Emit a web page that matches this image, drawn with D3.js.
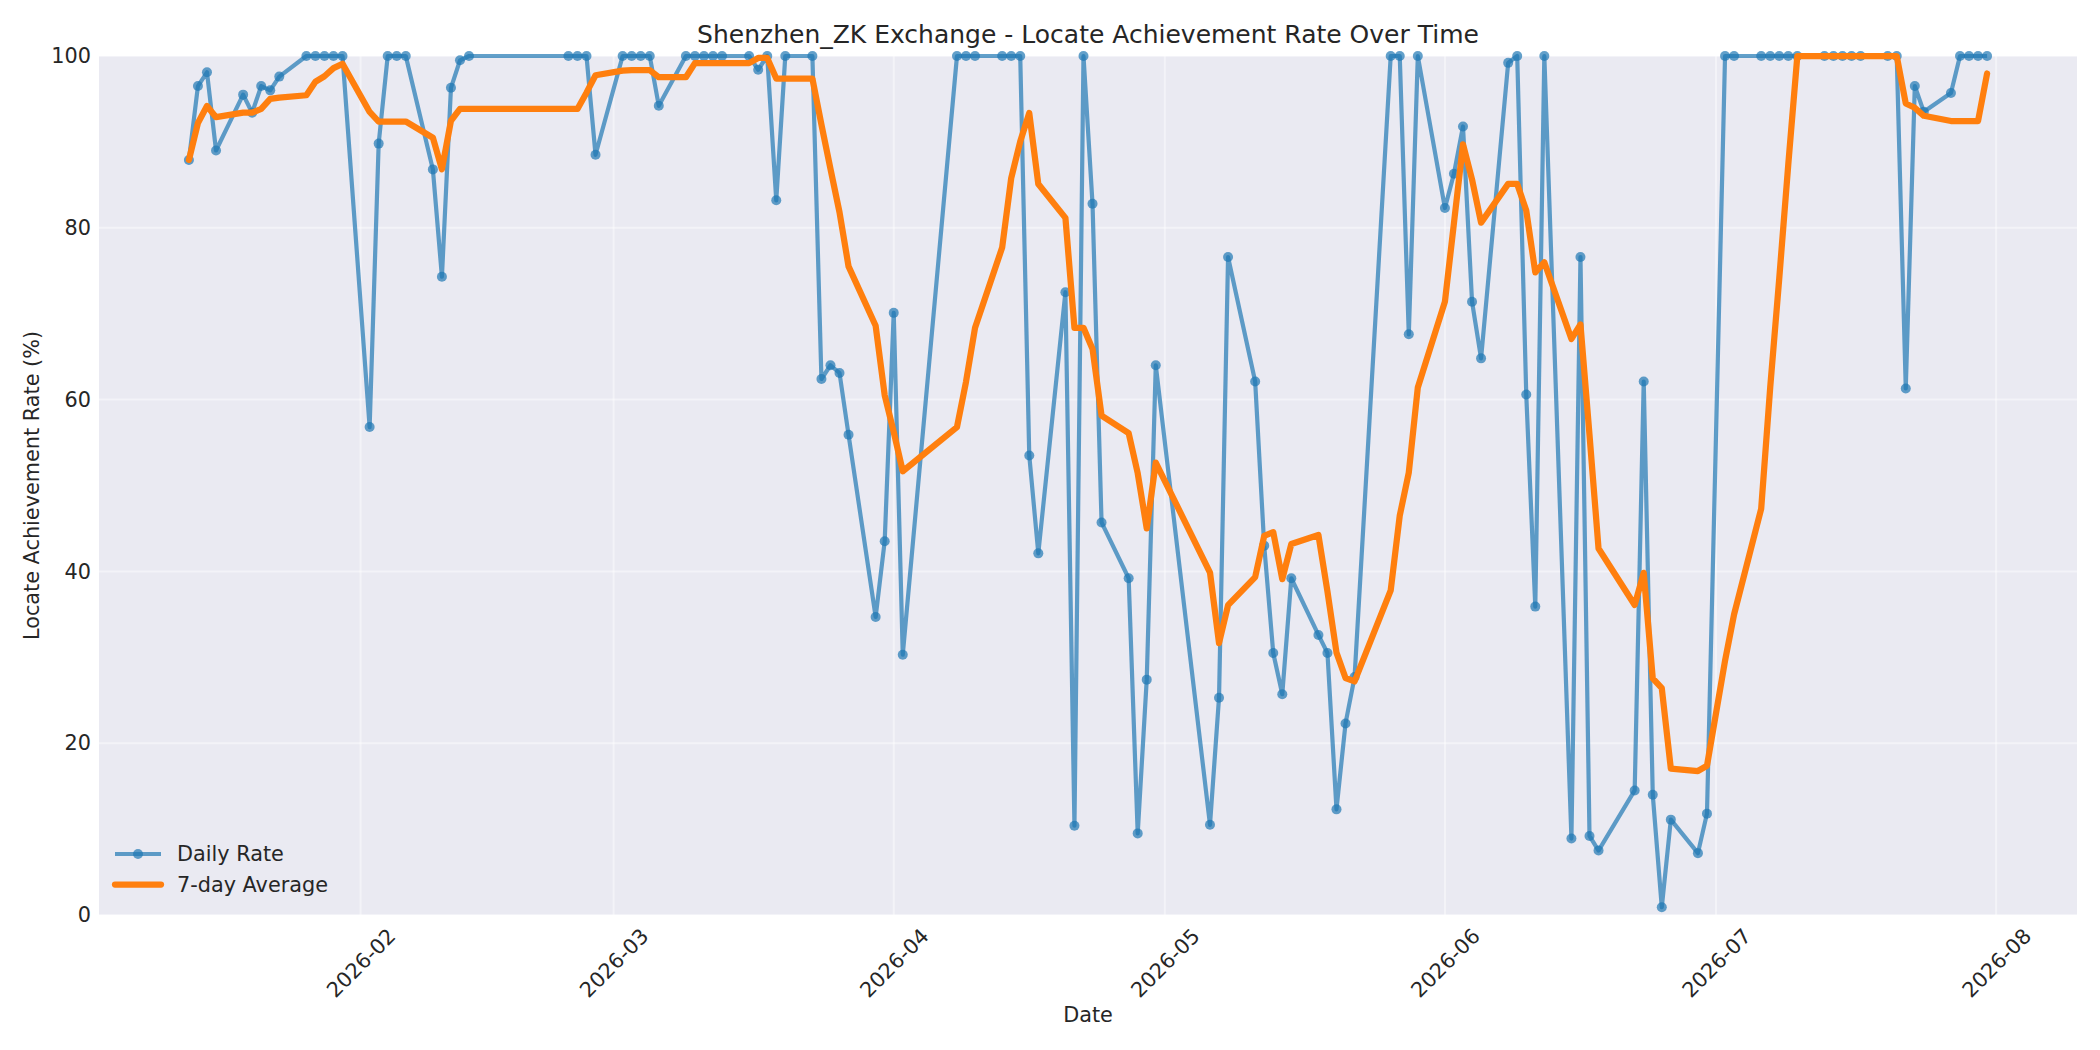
<!DOCTYPE html>
<html>
<head>
<meta charset="utf-8">
<script src="https://cdn.jsdelivr.net/npm/d3@7"></script>
<style>
  body { margin: 0; background: #fff; }
  text { font-family: "DejaVu Sans", sans-serif; fill: #262626; }
</style>
</head>
<body>
<svg id="chart" width="2100" height="1050"></svg>
<script>
// trading days
const dates = [
  "2026-01-13","2026-01-14","2026-01-15","2026-01-16",
  "2026-01-19","2026-01-20","2026-01-21","2026-01-22","2026-01-23",
  "2026-01-26","2026-01-27","2026-01-28","2026-01-29","2026-01-30",
  "2026-02-02","2026-02-03","2026-02-04","2026-02-05","2026-02-06",
  "2026-02-09","2026-02-10","2026-02-11","2026-02-12","2026-02-13",
  "2026-02-24","2026-02-25","2026-02-26","2026-02-27",
  "2026-03-02","2026-03-03","2026-03-04","2026-03-05","2026-03-06",
  "2026-03-09","2026-03-10","2026-03-11","2026-03-12","2026-03-13",
  "2026-03-16","2026-03-17","2026-03-18","2026-03-19","2026-03-20",
  "2026-03-23","2026-03-24","2026-03-25","2026-03-26","2026-03-27",
  "2026-03-30","2026-03-31","2026-04-01","2026-04-02",
  "2026-04-08","2026-04-09","2026-04-10",
  "2026-04-13","2026-04-14","2026-04-15","2026-04-16","2026-04-17",
  "2026-04-20","2026-04-21","2026-04-22","2026-04-23","2026-04-24",
  "2026-04-27","2026-04-28","2026-04-29","2026-04-30",
  "2026-05-06","2026-05-07","2026-05-08",
  "2026-05-11","2026-05-12","2026-05-13","2026-05-14","2026-05-15",
  "2026-05-18","2026-05-19","2026-05-20","2026-05-21","2026-05-22",
  "2026-05-26","2026-05-27","2026-05-28","2026-05-29",
  "2026-06-01","2026-06-02","2026-06-03","2026-06-04","2026-06-05",
  "2026-06-08","2026-06-09","2026-06-10","2026-06-11","2026-06-12",
  "2026-06-15","2026-06-16","2026-06-17","2026-06-18",
  "2026-06-22","2026-06-23","2026-06-24","2026-06-25","2026-06-26",
  "2026-06-29","2026-06-30",
  "2026-07-02","2026-07-03",
  "2026-07-06","2026-07-07","2026-07-08","2026-07-09","2026-07-10",
  "2026-07-13","2026-07-14","2026-07-15","2026-07-16","2026-07-17",
  "2026-07-20","2026-07-21","2026-07-22","2026-07-23","2026-07-24",
  "2026-07-27","2026-07-28","2026-07-29","2026-07-30","2026-07-31"
];

const dailyRate = [
  87.9, 96.5, 98.1, 89.0,
  95.5, 93.4, 96.5, 96.0, 97.6,
  100, 100, 100, 100, 100,
  56.8, 89.8, 100, 100, 100,
  86.8, 74.3, 96.3, 99.5, 100,
  100, 100, 100, 88.5,
  100, 100, 100, 100, 94.2,
  100, 100, 100, 100, 100,
  100, 98.4, 100, 83.2, 100,
  100, 62.4, 64.0, 63.1, 55.9,
  34.7, 43.5, 70.1, 30.3,
  100, 100, 100,
  100, 100, 100, 53.5, 42.1,
  72.5, 10.4, 100, 82.8, 45.7,
  39.2, 9.5, 27.4, 64.0,
  10.5, 25.3, 76.6,
  62.1, 43.0, 30.5, 25.7, 39.2,
  32.6, 30.5, 12.3, 22.3, 27.7,
  100, 100, 67.6, 100,
  82.3, 86.3, 91.8, 71.4, 64.8,
  99.2, 100, 60.6, 35.9, 100,
  8.9, 76.6, 9.2, 7.5,
  14.5, 62.1, 14.0, 0.9, 11.1,
  7.2, 11.8,
  100, 100,
  100, 100, 100, 100, 100,
  100, 100, 100, 100, 100,
  100, 100, 61.3, 96.5, 93.5,
  95.7, 100, 100, 100, 100
];

const weekAvg = [
  87.90, 92.20, 94.17, 92.88,
  93.40, 93.40, 93.84, 95.00, 95.16,
  95.43, 97.00, 97.64, 98.59, 99.09,
  93.49, 92.37, 92.37, 92.37, 92.37,
  90.49, 86.81, 92.46, 93.84, 93.84,
  93.84, 93.84, 95.73, 97.76,
  98.29, 98.36, 98.36, 98.36, 97.53,
  97.53, 99.17, 99.17, 99.17, 99.17,
  99.17, 99.77, 99.77, 97.37, 97.37,
  97.37, 92.00, 86.86, 81.81, 75.51,
  68.59, 60.51, 56.24, 51.66,
  56.80, 62.07, 68.37,
  77.70, 85.77, 90.04, 93.36, 85.09,
  81.16, 68.36, 68.36, 65.90, 58.14,
  56.10, 51.44, 45.00, 52.66,
  39.87, 31.66, 36.07,
  39.34, 44.13, 44.57, 39.10, 43.20,
  44.24, 37.66, 30.54, 27.59, 27.19,
  37.80, 46.49, 51.49, 61.41,
  71.41, 80.56, 89.71, 85.63, 80.60,
  85.11, 85.11, 82.01, 74.81, 75.99,
  67.06, 68.74, 55.89, 42.67,
  36.09, 39.83, 27.54, 26.40, 17.04,
  16.76, 17.37,
  29.59, 35.00,
  47.29, 61.44, 74.14, 87.40, 100,
  100, 100, 100, 100, 100,
  100, 100, 94.47, 93.97, 93.04,
  92.43, 92.43, 92.43, 92.43, 97.96
];

const yTicks = [0, 20, 40, 60, 80, 100];
const xTicks = ["2026-02-01","2026-03-01","2026-04-01","2026-05-01","2026-06-01","2026-07-01","2026-08-01"];
const seriesNames = ["Daily Rate", "7-day Average"];

const parse = d3.utcParse("%Y-%m-%d");
const rows = dates.map((d, i) => ({ date: parse(d), rate: dailyRate[i], avg: weekAvg[i] }));

const W = 2100, H = 1050;
const margin = { left: 99, right: 23, top: 56, bottom: 135 };
const plotW = W - margin.left - margin.right;
const plotH = H - margin.top - margin.bottom;

const svg = d3.select("#chart");
svg.append("rect").attr("width", W).attr("height", H).attr("fill", "#fff");

const g = svg.append("g").attr("transform", `translate(${margin.left},${margin.top})`);

// matplotlib style 5% padding on the date range
const ext = d3.extent(rows, d => d.date);
const pad = (ext[1] - ext[0]) * 0.05;
const x = d3.scaleUtc()
    .domain([new Date(+ext[0] - pad), new Date(+ext[1] + pad)])
    .range([0, plotW]);
const y = d3.scaleLinear().domain([0, 100]).range([plotH, 0]);

g.append("rect")
    .attr("width", plotW).attr("height", plotH)
    .attr("fill", "#eaeaf2");

// grid
const tickDates = xTicks.map(parse);
g.append("g").attr("class", "grid")
    .selectAll("line").data(tickDates).join("line")
    .attr("x1", d => x(d)).attr("x2", d => x(d))
    .attr("y1", 0).attr("y2", plotH);
g.append("g").attr("class", "grid")
    .selectAll("line").data(yTicks).join("line")
    .attr("x1", 0).attr("x2", plotW)
    .attr("y1", d => y(d)).attr("y2", d => y(d));
g.selectAll(".grid line")
    .attr("stroke", "#fff").attr("stroke-opacity", 0.45).attr("stroke-width", 2);

// axes
const yAxis = g.append("g")
    .call(d3.axisLeft(y).tickValues(yTicks).tickSize(0).tickPadding(8));
const xAxis = g.append("g")
    .attr("transform", `translate(0,${plotH})`)
    .call(d3.axisBottom(x).tickValues(tickDates).tickSize(0).tickFormat(d3.utcFormat("%Y-%m")));
[yAxis, xAxis].forEach(a => {
    a.select(".domain").remove();
    a.selectAll("text").attr("font-size", 20.8).attr("fill", "#262626")
        .attr("font-family", "DejaVu Sans, sans-serif");
});
xAxis.selectAll("text")
    .attr("y", 0).attr("dy", "0.35em")
    .attr("text-anchor", "middle")
    .attr("transform", "translate(0,48) rotate(-45)");

// series
const plot = g.append("g");
plot.append("path")
    .datum(rows)
    .attr("fill", "none")
    .attr("stroke", "#1f77b4")
    .attr("stroke-opacity", 0.7)
    .attr("stroke-width", 4.2)
    .attr("stroke-linejoin", "round")
    .attr("d", d3.line().x(d => x(d.date)).y(d => y(d.rate)));
plot.append("g")
    .selectAll("circle").data(rows).join("circle")
    .attr("cx", d => x(d.date)).attr("cy", d => y(d.rate))
    .attr("r", 5)
    .attr("fill", "#1f77b4").attr("fill-opacity", 0.7);
plot.append("path")
    .datum(rows)
    .attr("fill", "none")
    .attr("stroke", "#ff7f0e")
    .attr("stroke-width", 6.25)
    .attr("stroke-linejoin", "round")
    .attr("stroke-linecap", "round")
    .attr("d", d3.line().x(d => x(d.date)).y(d => y(d.avg)));

// legend
const leg = g.append("g").attr("transform", "translate(16,798)");
const l1 = leg.append("g");
l1.append("line").attr("x1", 0).attr("x2", 46).attr("y1", 0).attr("y2", 0)
    .attr("stroke", "#1f77b4").attr("stroke-opacity", 0.7).attr("stroke-width", 4.2);
l1.append("circle").attr("cx", 23).attr("cy", 0).attr("r", 5)
    .attr("fill", "#1f77b4").attr("fill-opacity", 0.7);
const l2 = leg.append("g").attr("transform", "translate(0,30.5)");
l2.append("line").attr("x1", 0).attr("x2", 46).attr("y1", 0).attr("y2", 0)
    .attr("stroke", "#ff7f0e").attr("stroke-width", 6.25).attr("stroke-linecap", "round");
[l1, l2].forEach((l, i) => l.append("text")
    .attr("x", 62).attr("dy", "0.35em").attr("font-size", 20.8).text(seriesNames[i]));

// titles
svg.append("text")
    .attr("x", margin.left + plotW / 2).attr("y", 43)
    .attr("text-anchor", "middle").attr("font-size", 25)
    .text("Shenzhen_ZK Exchange - Locate Achievement Rate Over Time");
svg.append("text")
    .attr("x", margin.left + plotW / 2).attr("y", 1022)
    .attr("text-anchor", "middle").attr("font-size", 20.8)
    .text("Date");
svg.append("text")
    .attr("transform", `translate(38.5,${margin.top + plotH / 2}) rotate(-90)`)
    .attr("text-anchor", "middle").attr("font-size", 20.8)
    .text("Locate Achievement Rate (%)");
</script>
</body>
</html>
